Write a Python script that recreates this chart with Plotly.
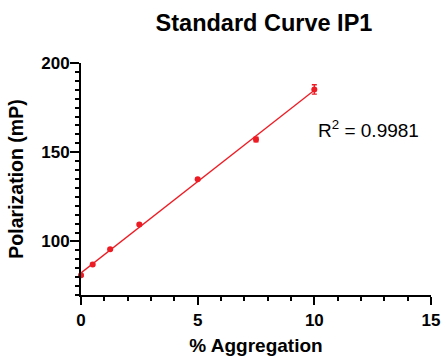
import numpy as np
import plotly.graph_objects as go

# Data
aggregation = [0, 0.5, 1.25, 2.5, 5, 7.5, 10]
polarization = [81.0, 87.1, 95.7, 109.5, 134.9, 157.1, 185.2]
polarization_err = [0.6, 0.6, 0.6, 0.6, 0.6, 1.3, 2.6]
r_squared = 0.9981

x_ticks = [0, 5, 10, 15]
y_ticks = [100, 150, 200]

RED = "#ED1C24"
FONT = "Liberation Sans, Arial, sans-serif"

# linear regression from the data
slope, intercept = np.polyfit(aggregation, polarization, 1)
fit_x = np.array([min(aggregation), max(aggregation)])
fit_y = slope * fit_x + intercept

W, H = 442, 356
L, R, T, B = 81, 10.5, 62.7, 61
PW, PH = W - L - R, H - T - B

fig = go.Figure()
fig.add_trace(go.Scatter(
    x=fit_x, y=fit_y, mode="lines",
    line=dict(color=RED, width=1.3), hoverinfo="skip", showlegend=False,
    cliponaxis=False,
))
fig.add_trace(go.Scatter(
    x=aggregation, y=polarization, mode="markers",
    marker=dict(color=RED, size=6),
    error_y=dict(type="data", array=polarization_err, color=RED, thickness=1.3, width=2.5),
    showlegend=False, cliponaxis=False,
))

fig.add_annotation(
    x=(369 - L) / PW, y=1 - (129 - T) / PH, xref="paper", yref="paper",
    text=f"R<sup>2</sup> = {r_squared}", showarrow=False,
    font=dict(family=FONT, size=19, color="black"),
    xanchor="center", yanchor="middle",
)

fig.update_layout(
    width=W, height=H,
    margin=dict(l=L, r=R, t=T, b=B, autoexpand=False),
    paper_bgcolor="white", plot_bgcolor="white",
    font=dict(family=FONT, color="black"),
    title=dict(
        text="<b>Standard Curve IP1</b>",
        font=dict(family=FONT, size=23.5, color="black"),
        x=264 / W, xref="container", xanchor="center",
        y=1 - 23 / H, yref="container", yanchor="middle",
    ),
    xaxis=dict(
        range=[0, 15], tickvals=x_ticks, ticktext=[str(v) for v in x_ticks],
        showgrid=False, zeroline=False,
        showline=True, linecolor="black", linewidth=2,
        ticks="outside", ticklen=8, tickwidth=2, tickcolor="black",
        minor=dict(dtick=1, tick0=0, ticks="outside", ticklen=4, tickwidth=2, tickcolor="black", showgrid=False),
        tickfont=dict(family=FONT, size=17, color="black", weight="bold"),
        ticklabelstandoff=1,
        title=dict(text="<b>% Aggregation</b>", font=dict(family=FONT, size=19, color="black"), standoff=11),
        automargin=False,
    ),
    yaxis=dict(
        range=[70, 200], tickvals=y_ticks, ticktext=[str(v) for v in y_ticks],
        showgrid=False, zeroline=False,
        showline=True, linecolor="black", linewidth=2,
        ticks="outside", ticklen=9, tickwidth=2, tickcolor="black",
        minor=dict(dtick=5, tick0=70, ticks="outside", ticklen=4, tickwidth=2, tickcolor="black", showgrid=False),
        tickfont=dict(family=FONT, size=17, color="black", weight="bold"),
        ticklabelstandoff=-3,
        title=dict(text="<b>Polarization (mP)</b>", font=dict(family=FONT, size=19.5, color="black"), standoff=12),
        automargin=False,
    ),
)

# remove the page's default body margin so the figure fills the window exactly
fig.write_html(
    "out.html",
    config={"displayModeBar": False},
    post_script="document.body.style.margin='0';document.documentElement.style.overflow='hidden';",
)
